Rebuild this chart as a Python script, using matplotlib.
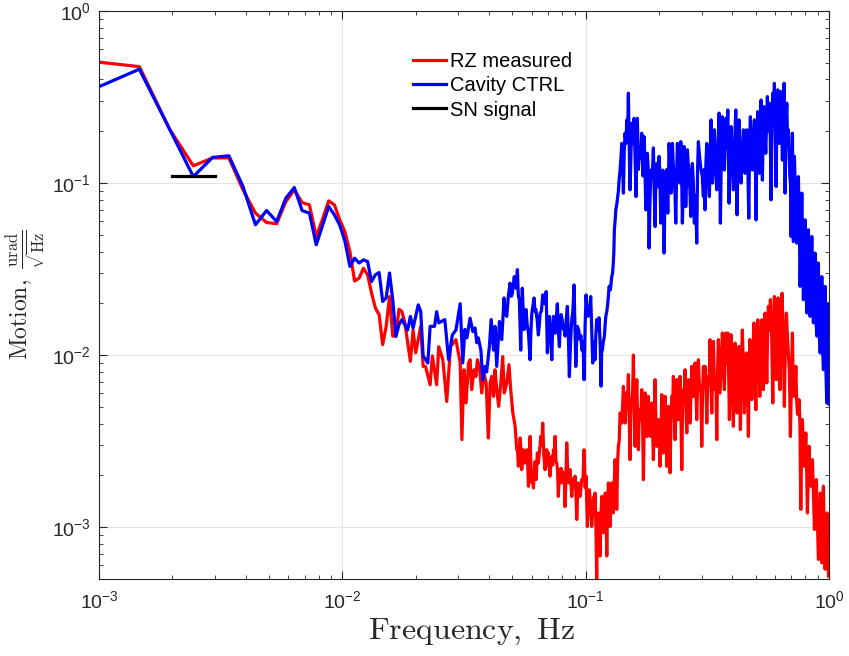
import matplotlib
matplotlib.use('Agg')
import matplotlib.pyplot as plt
from matplotlib.ticker import LogLocator, NullFormatter

# RZ measured (red): trace peaks/dips
rz_freq = [0.000977, 0.001465, 0.001953, 0.002441, 0.00293, 0.003418, 0.003906, 0.004395,
           0.004883, 0.005371, 0.005859, 0.006348, 0.006836, 0.007324, 0.007813, 0.008301,
           0.008789, 0.009277, 0.009766, 0.01025, 0.01074, 0.01123, 0.01172, 0.01221,
           0.0127, 0.01318, 0.01367, 0.01416, 0.01465, 0.01514, 0.01563, 0.01611, 0.0166,
           0.01709, 0.01758, 0.01807, 0.01904, 0.01953, 0.02002, 0.021, 0.02148, 0.02197,
           0.02295, 0.02344, 0.02441, 0.0249, 0.02588, 0.02686, 0.02783, 0.0293,
           0.0305, 0.0310, 0.0316, 0.03225, 0.0330, 0.0335, 0.0340, 0.0348, 0.0354, 0.0359,
           0.0366, 0.0374, 0.0382, 0.0390, 0.0398, 0.0405, 0.0411, 0.0418, 0.0424, 0.0431,
           0.0439, 0.0448, 0.0456, 0.0463, 0.0474, 0.0484, 0.0492, 0.0502, 0.0513, 0.0521,
           0.0529, 0.0538, 0.0546, 0.0555, 0.0564, 0.0573, 0.0582, 0.0591, 0.0601, 0.0610,
           0.0626, 0.0639, 0.0654, 0.0666, 0.0681, 0.0692, 0.0703, 0.0714, 0.0726, 0.0737,
           0.0749, 0.0761, 0.0772, 0.0785, 0.0798, 0.0810, 0.0823, 0.0836, 0.0849, 0.0863,
           0.0877, 0.0890, 0.0905, 0.0919, 0.0933, 0.0948, 0.0964, 0.0985, 0.1004, 0.1016,
           0.1035, 0.1059, 0.1083, 0.1093, 0.1110, 0.1127, 0.1146, 0.1165, 0.1184, 0.1204,
           0.1221, 0.1240, 0.1260, 0.1280, 0.1299, 0.1321, 0.1342, 0.1363, 0.1385, 0.1407,
           0.1429, 0.1452, 0.1476, 0.1498, 0.1522, 0.1547, 0.1571, 0.1596, 0.1622, 0.1647,
           0.1674, 0.1700, 0.1727, 0.1755, 0.1783, 0.1810, 0.1840, 0.1869, 0.1898, 0.1929,
           0.1960, 0.1990, 0.2022, 0.2055, 0.2087, 0.2121, 0.2155, 0.2188, 0.2223, 0.2259,
           0.2294, 0.2331, 0.2368, 0.2404, 0.2443, 0.2483, 0.2521, 0.2562, 0.2603, 0.2643,
           0.2686, 0.2730, 0.2771, 0.2816, 0.2861, 0.2905, 0.2952, 0.3000, 0.3046, 0.3095,
           0.3146, 0.3194, 0.3245, 0.3298, 0.3349, 0.3402, 0.3458, 0.3510, 0.3567, 0.3647,
           0.3716, 0.3765, 0.3837, 0.3896, 0.3959, 0.4046, 0.4112, 0.4191, 0.4271, 0.4323,
           0.4406, 0.4491, 0.4576, 0.4664, 0.4726, 0.4817, 0.4909, 0.5003, 0.5098, 0.5195,
           0.5294, 0.5375, 0.5462, 0.5551, 0.5636, 0.5744, 0.5875, 0.5965, 0.6079, 0.6178,
           0.6295, 0.6415, 0.6556, 0.6681, 0.6810, 0.6940, 0.7074, 0.7187, 0.7306, 0.7414,
           0.7534, 0.7657, 0.7775, 0.7901, 0.8029, 0.8151, 0.8283, 0.8418, 0.8547, 0.8710,
           0.8875, 0.9045, 0.9220, 0.9342, 0.9484, 0.9638, 0.9831, 0.9954]
rz_amp = [0.506, 0.475, 0.205, 0.126, 0.140, 0.140, 0.0914, 0.0669,
          0.059, 0.058, 0.078, 0.0914, 0.077, 0.0747, 0.0489, 0.062,
          0.0788, 0.0747, 0.061, 0.052, 0.040, 0.027, 0.028, 0.032,
          0.0293, 0.023, 0.0188, 0.0172, 0.0115, 0.0147, 0.0219, 0.0129, 0.0129,
          0.0185, 0.0179, 0.0154, 0.0092, 0.014, 0.0103, 0.0147, 0.0086, 0.0086,
          0.00673, 0.0099, 0.00673, 0.0112, 0.0094, 0.00538, 0.0112, 0.0123,
          0.0090, 0.00323, 0.00823, 0.00527, 0.0090, 0.0094, 0.0063, 0.00823, 0.00752, 0.0094,
          0.0086, 0.00603, 0.00787, 0.00689, 0.0033, 0.00689, 0.00752, 0.00576, 0.00823, 0.0063,
          0.00504, 0.00689, 0.0098, 0.00603, 0.00689, 0.0088, 0.0063, 0.00461, 0.00386, 0.00282,
          0.00226, 0.0033, 0.00216, 0.00282, 0.00236, 0.00282, 0.00173, 0.00337, 0.00181, 0.00169,
          0.00189, 0.00236, 0.00337, 0.00403, 0.00216, 0.00282, 0.0027, 0.00198, 0.00258, 0.00282,
          0.00337, 0.00236, 0.00151, 0.00207, 0.00181, 0.00198, 0.00132, 0.00309, 0.00181, 0.00216,
          0.00151, 0.00181, 0.00198, 0.00111, 0.00181, 0.00151, 0.00189, 0.00282, 0.00198, 0.00101,
          0.00165, 0.00101, 0.00151, 0.00158, 0.00049, 0.00121, 0.00068, 0.00151, 0.00093, 0.00158,
          0.00068, 0.00181, 0.00101, 0.00181, 0.00121, 0.00247, 0.00127, 0.00295, 0.00461, 0.00403,
          0.00658, 0.00403, 0.00603, 0.0077, 0.00247, 0.00504, 0.0100, 0.00295, 0.0072, 0.00282,
          0.00422, 0.0063, 0.00189, 0.00603, 0.00337, 0.00576, 0.00337, 0.00527, 0.00247, 0.0072,
          0.00295, 0.00422, 0.00226, 0.00589, 0.0027, 0.00576, 0.00226, 0.00504, 0.00207, 0.00576,
          0.00752, 0.00323, 0.0072, 0.00422, 0.00752, 0.00216, 0.0063, 0.00823, 0.00353, 0.0072,
          0.00403, 0.0086, 0.00576, 0.0090, 0.00422, 0.0094, 0.0063, 0.00295, 0.0086, 0.0086,
          0.00403, 0.00752, 0.0123, 0.00461, 0.0120, 0.0063, 0.00323, 0.0123, 0.00603, 0.01344,
          0.0063, 0.01344, 0.01344, 0.00422, 0.01314, 0.00386, 0.01176, 0.00461, 0.01123, 0.00369,
          0.0140, 0.00461, 0.0103, 0.00337, 0.0123, 0.00551, 0.01536, 0.00482, 0.01605, 0.00576,
          0.01605, 0.0063, 0.01756, 0.00689, 0.0192, 0.0210, 0.00527, 0.0219, 0.0072, 0.0215,
          0.0063, 0.0229, 0.00504, 0.01756, 0.0103, 0.00337, 0.01344, 0.00576, 0.0086, 0.00461,
          0.00551, 0.00127, 0.00422, 0.00226, 0.00353, 0.00121, 0.00295, 0.00173, 0.00247, 0.00097,
          0.00189, 0.00065, 0.00158, 0.00062, 0.00173, 0.00057, 0.00121, 0.00052]

# RZ measured: body of the dense noise band, read between the peaks above
rz_core_freq = [0.0517, 0.0525, 0.0533, 0.0542, 0.0551, 0.0560, 0.0569, 0.0578, 0.0587, 0.0596,
                0.0606, 0.0618, 0.0633, 0.0647, 0.0660, 0.0673, 0.0687, 0.0698, 0.0709, 0.0720,
                0.0732, 0.0743, 0.0755, 0.0767, 0.0779, 0.0792, 0.0804, 0.0817, 0.0830, 0.0843,
                0.0856, 0.0870, 0.0884, 0.0898, 0.0912, 0.0926, 0.0941, 0.0956, 0.0975, 0.0995,
                0.1010, 0.1025, 0.1047, 0.1071, 0.1088, 0.1102, 0.1118, 0.1137, 0.1156, 0.1175,
                0.1194, 0.1213, 0.1231, 0.1250, 0.1270, 0.1290, 0.1310, 0.1332, 0.1353, 0.1374,
                0.1396, 0.1418, 0.1440, 0.1464, 0.1487, 0.1510, 0.1535, 0.1559, 0.1584, 0.1609,
                0.1635, 0.1661, 0.1687, 0.1714, 0.1741, 0.1769, 0.1797, 0.1825, 0.1855, 0.1884,
                0.1914, 0.1945, 0.1975, 0.2006, 0.2038, 0.2071, 0.2104, 0.2138, 0.2172, 0.2206,
                0.2241, 0.2276, 0.2313, 0.2350, 0.2386, 0.2423, 0.2463, 0.2502, 0.2541, 0.2582,
                0.2623, 0.2665, 0.2708, 0.2751, 0.2794, 0.2838, 0.2883, 0.2929, 0.2976, 0.3023,
                0.3070, 0.3120, 0.3170, 0.3220, 0.3271, 0.3323, 0.3375, 0.3430, 0.3484, 0.3538,
                0.3607, 0.3681, 0.3740, 0.3801, 0.3866, 0.3928, 0.4002, 0.4079, 0.4151, 0.4231,
                0.4297, 0.4364, 0.4448, 0.4533, 0.4620, 0.4695, 0.4771, 0.4863, 0.4956, 0.5050,
                0.5146, 0.5245, 0.5334, 0.5418, 0.5506, 0.5593, 0.5690, 0.5810, 0.5920, 0.6022,
                0.6128, 0.6236, 0.6355, 0.6485, 0.6618, 0.6745, 0.6875, 0.7007, 0.7130, 0.7246,
                0.7360, 0.7474, 0.7595, 0.7716, 0.7838, 0.7965, 0.8090, 0.8217, 0.8350, 0.8482,
                0.8628, 0.8792, 0.8960, 0.9132, 0.9281, 0.9413, 0.9561, 0.9734, 0.9892]
rz_core_amp = [0.0033, 0.0028, 0.0026, 0.0028, 0.0025, 0.0027, 0.0024, 0.0023, 0.0025, 0.0022,
               0.0021, 0.0024, 0.0027, 0.0028, 0.0030, 0.0026, 0.0025, 0.0023, 0.0022, 0.0024,
               0.0023, 0.0026, 0.0024, 0.0021, 0.0019, 0.0022, 0.0021, 0.0019, 0.0020, 0.0022,
               0.0019, 0.0018, 0.0019, 0.0017, 0.0016, 0.0015, 0.0016, 0.0017, 0.0019, 0.0017,
               0.0014, 0.0013, 0.0014, 0.0013, 0.0012, 0.0010, 0.0011, 0.0011, 0.0012, 0.0012,
               0.0013, 0.0012, 0.0014, 0.0014, 0.0015, 0.0016, 0.0018, 0.0020, 0.0024, 0.0032,
               0.0045, 0.0050, 0.0052, 0.0050, 0.0055, 0.0045, 0.0055, 0.0060, 0.0045, 0.0050,
               0.0042, 0.0048, 0.0045, 0.0040, 0.0042, 0.0040, 0.0044, 0.0040, 0.0043, 0.0038,
               0.0042, 0.0040, 0.0036, 0.0040, 0.0037, 0.0042, 0.0040, 0.0042, 0.0038, 0.0043,
               0.0040, 0.0048, 0.0045, 0.0050, 0.0048, 0.0052, 0.0045, 0.0050, 0.0055, 0.0052,
               0.0058, 0.0055, 0.0060, 0.0065, 0.0062, 0.0065, 0.0068, 0.0070, 0.0062, 0.0060,
               0.0065, 0.0068, 0.0065, 0.0075, 0.0072, 0.0080, 0.0078, 0.0072, 0.0080, 0.0085,
               0.0090, 0.0085, 0.0095, 0.0090, 0.0085, 0.0080, 0.0078, 0.0082, 0.0080, 0.0085,
               0.0075, 0.0085, 0.0082, 0.0078, 0.0072, 0.0080, 0.0090, 0.0095, 0.0100, 0.0105,
               0.0110, 0.0112, 0.0120, 0.0125, 0.0120, 0.0130, 0.0140, 0.0130, 0.0150, 0.0140,
               0.0150, 0.0140, 0.0150, 0.0130, 0.0120, 0.0130, 0.0080, 0.0070, 0.0065, 0.0060,
               0.0055, 0.0045, 0.0040, 0.0032, 0.0030, 0.0025, 0.0022, 0.0020, 0.0020, 0.0018,
               0.0016, 0.0013, 0.0011, 0.0010, 0.0009, 0.00095, 0.00085, 0.0008, 0.0007]

# Cavity CTRL (blue): trace peaks/dips
ctrl_freq = [0.000977, 0.001465, 0.001953, 0.002441, 0.00293, 0.003418, 0.003906, 0.004395,
             0.004883, 0.005371, 0.005859, 0.006348, 0.006836, 0.007324, 0.007813, 0.008789,
             0.009277, 0.009766, 0.01025, 0.01074, 0.01123, 0.01172, 0.01221, 0.0127,
             0.01318, 0.01367, 0.01416, 0.01465, 0.01514, 0.01563, 0.01611, 0.0166, 0.01709,
             0.01758, 0.01807, 0.01855, 0.01904, 0.01953, 0.02051, 0.021, 0.02148, 0.02246,
             0.02295, 0.02393, 0.02441, 0.0249, 0.02637, 0.02734, 0.02832, 0.0293,
             0.0305, 0.03125, 0.0319, 0.0325, 0.0335, 0.0344, 0.0351, 0.0357, 0.0362, 0.0371,
             0.0378, 0.0386, 0.0392, 0.0402, 0.0409, 0.0418, 0.0424, 0.0431, 0.0442, 0.0452,
             0.0462, 0.0474, 0.0481, 0.0489, 0.0500, 0.0509, 0.0518, 0.0524, 0.0534, 0.0541,
             0.0549, 0.0558, 0.0569, 0.0582, 0.0591, 0.0601, 0.0614, 0.0624, 0.0639, 0.0650,
             0.0666, 0.0681, 0.0688, 0.0696, 0.0709, 0.0726, 0.0737, 0.0749, 0.0765, 0.0780,
             0.0792, 0.0810, 0.0823, 0.0841, 0.0857, 0.0877, 0.0896, 0.0911, 0.0925, 0.0948,
             0.0964, 0.0985, 0.1004, 0.1016, 0.1049, 0.1069, 0.1093, 0.1110, 0.1135, 0.1157,
             0.1171, 0.1194, 0.1210, 0.1233, 0.1248, 0.1280, 0.1299, 0.1312, 0.1330, 0.1355,
             0.1372, 0.1385, 0.1407, 0.1429, 0.1452, 0.1476, 0.1498, 0.1522, 0.1547, 0.1581,
             0.1611, 0.1631, 0.1663, 0.1700, 0.1738, 0.1766, 0.1793, 0.1822, 0.1857, 0.1898,
             0.1929, 0.1960, 0.2003, 0.2035, 0.2074, 0.2100, 0.2134, 0.2175, 0.2202, 0.2244,
             0.2272, 0.2308, 0.2346, 0.2382, 0.2420, 0.2460, 0.2497, 0.2537, 0.2578, 0.2618,
             0.2660, 0.2704, 0.2745, 0.2797, 0.2861, 0.2905, 0.2980, 0.3046, 0.3095, 0.3146,
             0.3224, 0.3277, 0.3318, 0.3381, 0.3458, 0.3534, 0.3578, 0.3647, 0.3716, 0.3765,
             0.3837, 0.3885, 0.3959, 0.4046, 0.4139, 0.4191, 0.4271, 0.4352, 0.4448, 0.4520,
             0.4593, 0.4681, 0.4753, 0.4844, 0.4937, 0.5017, 0.5098, 0.5176, 0.5260, 0.5325,
             0.5411, 0.5498, 0.5582, 0.5689, 0.5781, 0.5875, 0.5965, 0.6062, 0.6160, 0.6236,
             0.6337, 0.6434, 0.6539, 0.6601, 0.6708, 0.6810, 0.6902, 0.6987, 0.7074, 0.7141,
             0.7209, 0.7306, 0.7375, 0.7486, 0.7608, 0.7731, 0.7849, 0.7976, 0.8104, 0.8228,
             0.8362, 0.8497, 0.8627, 0.8768, 0.8909, 0.9045, 0.9192, 0.9342, 0.9484, 0.9638,
             0.9793, 0.9886, 1.0]
ctrl_amp = [0.358, 0.459, 0.205, 0.109, 0.141, 0.144, 0.0955, 0.0572,
            0.0692, 0.0598, 0.0817, 0.0942, 0.0692, 0.0669, 0.0438, 0.073,
            0.0654, 0.0568, 0.046, 0.0328, 0.0366, 0.0343, 0.0358, 0.035,
            0.0268, 0.0293, 0.0302, 0.0205, 0.0215, 0.030, 0.021, 0.01285, 0.01503,
            0.0161, 0.0150, 0.0140, 0.0168, 0.01436, 0.0196, 0.0179, 0.0099, 0.0090,
            0.0147, 0.0147, 0.0179, 0.0154, 0.0161, 0.0094, 0.0131, 0.0140,
            0.0199, 0.0090, 0.0141, 0.0126, 0.0164, 0.0137, 0.0144, 0.0118, 0.0126, 0.0107,
            0.0072, 0.0086, 0.0080, 0.0112, 0.0161, 0.0107, 0.0147, 0.0086, 0.0157, 0.0123,
            0.0215, 0.0168, 0.0219, 0.0262, 0.0230, 0.0286, 0.0245, 0.0314, 0.0210, 0.0107,
            0.0245, 0.0141, 0.0184, 0.0134, 0.0094, 0.0176, 0.0215, 0.0184, 0.0131, 0.0176,
            0.0224, 0.0199, 0.0234, 0.0103, 0.0168, 0.0094, 0.0168, 0.0134, 0.0199, 0.0112,
            0.0172, 0.0141, 0.0129, 0.0192, 0.0075, 0.0161, 0.0256, 0.0086, 0.0147, 0.0123,
            0.0107, 0.0072, 0.0224, 0.0168, 0.0219, 0.0090, 0.0094, 0.0161, 0.0165, 0.0066,
            0.0107, 0.0129, 0.0168, 0.0201, 0.0251, 0.0286, 0.0343, 0.0535, 0.0699, 0.0835,
            0.104, 0.119, 0.170, 0.0874, 0.195, 0.233, 0.333, 0.0913, 0.223, 0.238,
            0.0835, 0.238, 0.156, 0.195, 0.186, 0.0699, 0.149, 0.0419, 0.119, 0.160,
            0.0559, 0.130, 0.143, 0.0585, 0.119, 0.0392, 0.114, 0.0669, 0.170, 0.0874,
            0.170, 0.104, 0.0585, 0.170, 0.104, 0.174, 0.0585, 0.163, 0.073, 0.156,
            0.119, 0.0639, 0.130, 0.0585, 0.0448, 0.174, 0.119, 0.0835, 0.0699, 0.170,
            0.0835, 0.233, 0.100, 0.204, 0.0913, 0.255, 0.0585, 0.243, 0.119, 0.238,
            0.266, 0.0764, 0.213, 0.0913, 0.266, 0.0654, 0.233, 0.100, 0.204, 0.114,
            0.204, 0.0625, 0.243, 0.119, 0.233, 0.0611, 0.260, 0.114, 0.304, 0.104,
            0.278, 0.149, 0.318, 0.291, 0.0799, 0.333, 0.380, 0.0954, 0.348, 0.170,
            0.340, 0.136, 0.380, 0.0874, 0.291, 0.204, 0.109, 0.0489, 0.195, 0.0457,
            0.143, 0.0764, 0.0448, 0.109, 0.0251, 0.0874, 0.0210, 0.0611, 0.0176, 0.0535,
            0.0168, 0.0489, 0.0154, 0.0392, 0.0129, 0.0343, 0.0103, 0.0286, 0.00823, 0.0251,
            0.00527, 0.0199, 0.0052]

# Cavity CTRL: body of the dense noise band
ctrl_core_freq = [0.0465, 0.0495, 0.0513, 0.0529, 0.0545, 0.0563, 0.0575, 0.0596, 0.0619, 0.0632,
                  0.0645, 0.0658, 0.0673, 0.0702, 0.0717, 0.0731, 0.0743, 0.0757, 0.0772, 0.0786,
                  0.0801, 0.0816, 0.0832, 0.0849, 0.0867, 0.0886, 0.0904, 0.0918, 0.0936, 0.0956,
                  0.0975, 0.0995, 0.1010, 0.1032, 0.1059, 0.1081, 0.1101, 0.1122, 0.1146, 0.1164,
                  0.1182, 0.1202, 0.1222, 0.1240, 0.1264, 0.1290, 0.1306, 0.1321, 0.1342, 0.1363,
                  0.1378, 0.1396, 0.1418, 0.1440, 0.1464, 0.1487, 0.1510, 0.1535, 0.1564, 0.1596,
                  0.1621, 0.1647, 0.1681, 0.1719, 0.1752, 0.1780, 0.1808, 0.1840, 0.1878, 0.1913,
                  0.1945, 0.1981, 0.2019, 0.2055, 0.2087, 0.2117, 0.2155, 0.2188, 0.2223, 0.2258,
                  0.2290, 0.2327, 0.2364, 0.2401, 0.2440, 0.2478, 0.2517, 0.2557, 0.2598, 0.2639,
                  0.2682, 0.2724, 0.2771, 0.2829, 0.2883, 0.2942, 0.3013, 0.3070, 0.3120, 0.3185,
                  0.3250, 0.3297, 0.3350, 0.3420, 0.3496, 0.3556, 0.3612, 0.3681, 0.3740, 0.3801,
                  0.3861, 0.3922, 0.4002, 0.4092, 0.4165, 0.4231, 0.4311, 0.4400, 0.4484, 0.4556,
                  0.4637, 0.4717, 0.4798, 0.4890, 0.4977, 0.5057, 0.5137, 0.5218, 0.5292, 0.5368,
                  0.5454, 0.5540, 0.5635, 0.5735, 0.5828, 0.5920, 0.6013, 0.6111, 0.6198, 0.6286,
                  0.6385, 0.6486, 0.6570, 0.6654, 0.6759, 0.6856, 0.6944, 0.7108, 0.7175, 0.7258,
                  0.7340, 0.7430, 0.7547, 0.7670, 0.7790, 0.7912, 0.8040, 0.8166, 0.8295, 0.8430,
                  0.8562, 0.8697, 0.8838, 0.8977, 0.9118, 0.9267, 0.9413, 0.9561, 0.9715, 0.9840,
                  0.9943]
ctrl_core_amp = [0.018, 0.022, 0.025, 0.022, 0.018, 0.016, 0.015, 0.014, 0.018, 0.016,
                 0.015, 0.018, 0.020, 0.015, 0.013, 0.014, 0.015, 0.016, 0.014, 0.015,
                 0.016, 0.015, 0.016, 0.013, 0.012, 0.018, 0.014, 0.012, 0.014, 0.013,
                 0.012, 0.015, 0.019, 0.017, 0.014, 0.012, 0.013, 0.014, 0.012, 0.011,
                 0.012, 0.015, 0.018, 0.022, 0.024, 0.030, 0.040, 0.060, 0.075, 0.090,
                 0.110, 0.140, 0.13, 0.15, 0.17, 0.19, 0.16, 0.15, 0.17, 0.14,
                 0.16, 0.12, 0.14, 0.11, 0.13, 0.10, 0.12, 0.085, 0.11, 0.09,
                 0.12, 0.095, 0.11, 0.09, 0.10, 0.085, 0.12, 0.10, 0.12, 0.10,
                 0.13, 0.09, 0.11, 0.13, 0.10, 0.12, 0.09, 0.12, 0.10, 0.13,
                 0.09, 0.11, 0.10, 0.085, 0.12, 0.14, 0.11, 0.12, 0.13, 0.11,
                 0.15, 0.13, 0.16, 0.12, 0.16, 0.13, 0.15, 0.14, 0.17, 0.16,
                 0.14, 0.16, 0.13, 0.17, 0.12, 0.16, 0.14, 0.15, 0.16, 0.15,
                 0.13, 0.17, 0.15, 0.18, 0.14, 0.19, 0.16, 0.20, 0.17, 0.21,
                 0.19, 0.23, 0.20, 0.19, 0.22, 0.25, 0.20, 0.24, 0.23, 0.25,
                 0.22, 0.24, 0.19, 0.22, 0.17, 0.15, 0.10, 0.09, 0.08, 0.10,
                 0.09, 0.07, 0.06, 0.05, 0.045, 0.035, 0.032, 0.028, 0.025, 0.022,
                 0.020, 0.018, 0.016, 0.015, 0.013, 0.012, 0.011, 0.0095, 0.008, 0.007,
                 0.009]

# SN signal (black)
sn_freq = [0.002, 0.003]
sn_amp = [0.1105, 0.1105]

rz = sorted(zip(rz_freq + rz_core_freq, rz_amp + rz_core_amp))
ctrl = sorted(zip(ctrl_freq + ctrl_core_freq, ctrl_amp + ctrl_core_amp))

plt.rcParams['font.family'] = 'Liberation Sans'
plt.rcParams['mathtext.fontset'] = 'custom'
plt.rcParams['mathtext.rm'] = 'Liberation Sans'
plt.rcParams['mathtext.it'] = 'Liberation Sans:italic'
plt.rcParams['mathtext.bf'] = 'Liberation Sans:bold'

axis_color = '#262626'

fig = plt.figure(figsize=(8.49, 6.56), dpi=100)
ax = fig.add_axes([99 / 849, 77 / 656, 730 / 849, 568 / 656])

ax.loglog([p[0] for p in rz], [p[1] for p in rz], color='red', lw=2.3, label='RZ measured')
ax.loglog([p[0] for p in ctrl], [p[1] for p in ctrl], color='blue', lw=2.3, label='Cavity CTRL')
ax.loglog(sn_freq, sn_amp, color='black', lw=2.3, label='SN signal')

ax.set_xlim(1e-3, 1)
ax.set_ylim(5e-4, 1)

# MATLAB-like box, ticks and grid
for s in ax.spines.values():
    s.set_color(axis_color)
    s.set_linewidth(0.8)
ax.tick_params(which='both', direction='in', top=True, right=True,
               colors=axis_color, labelsize=14)
ax.tick_params(which='major', length=6, width=0.8)
ax.tick_params(which='minor', length=3, width=0.6)
ax.tick_params(axis='x', which='major', pad=8)
ax.tick_params(axis='y', which='major', pad=6)
ax.xaxis.set_minor_locator(LogLocator(base=10, subs=range(2, 10), numticks=20))
ax.yaxis.set_minor_locator(LogLocator(base=10, subs=range(2, 10), numticks=20))
ax.xaxis.set_minor_formatter(NullFormatter())
ax.yaxis.set_minor_formatter(NullFormatter())
ax.grid(True, which='major', color='#e3e3e3', lw=0.8)
ax.set_axisbelow(True)

ax.set_xlabel(r'$\mathrm{Frequency,\ Hz}$', fontsize=23, math_fontfamily='cm',
              color=axis_color)
ax.xaxis.set_label_coords(0.51, -0.066)
ax.set_ylabel(r'$\mathrm{Motion,\ }\frac{\mathrm{urad}}{\sqrt{\mathrm{Hz}}}$', fontsize=17,
              math_fontfamily='cm', color=axis_color)
ax.yaxis.set_label_coords(-0.071, 0.5)

ax.legend(loc='upper left', bbox_to_anchor=(0.430, 0.927), frameon=False, fontsize=14.5,
          handlelength=1.65, handletextpad=0.2, labelspacing=0.25,
          borderpad=0, borderaxespad=0)

fig.savefig('out.png', dpi=100)
